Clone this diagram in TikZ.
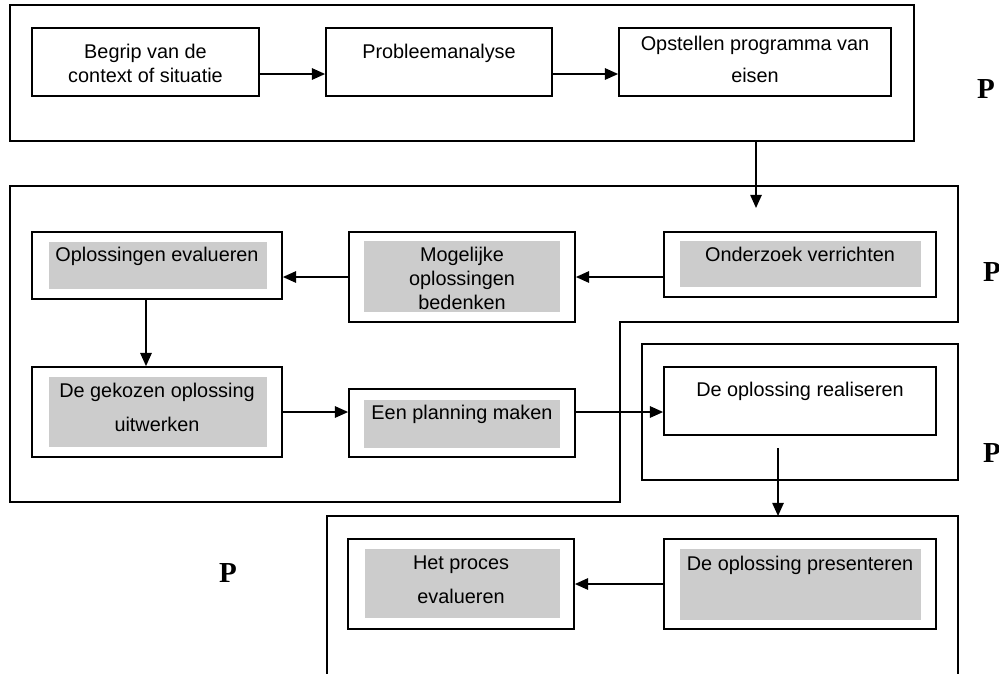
\documentclass[tikz,border=0pt]{standalone}
\usepackage{fontspec}
\setmainfont{Liberation Sans}
\newfontfamily\serifP{Liberation Serif}
\usetikzlibrary{arrows.meta,positioning,fit,backgrounds}
\definecolor{boxgray}{RGB}{204,204,204}

\begin{document}
\begin{tikzpicture}[x=0.02cm, y=-0.02cm, line width=1pt,
	every node/.style={font=\fontsize{11.3}{13.6}\selectfont},
	stepbox/.style={draw, inner sep=0pt},
	greybox/.style={fill=boxgray, inner sep=0pt},
	steptext/.style={anchor=north, align=center, inner sep=0pt},
	tallskip/.style={font=\fontsize{11.3}{19.3}\selectfont},
	plabel/.style={inner sep=0pt, font=\serifP\bfseries\fontsize{16.5}{18}\selectfont},
	arr/.style={line width=0.9pt, -{Triangle[length=7.5pt,width=6.5pt]}}]
	\useasboundingbox (0,0) rectangle (999,673);
	% fase 1
	\node[stepbox, fit={(10,5) (914,141)}] (fr1) {};
	\node[stepbox, fit={(32,28) (259,96)}] (bgr) {};
	\node[steptext] (bgr-t) at (145.5,43) {Begrip van de\\context of situatie};
	\node[stepbox, fit={(326,28) (552,96)}] (prb) {};
	\node[steptext] (prb-t) at (439,43) {Probleemanalyse};
	\node[stepbox, fit={(619,28) (891,96)}] (ope) {};
	\node[steptext, font=\fontsize{11.3}{18.1}\selectfont] (ope-t) at (755,35) {Opstellen programma van\\eisen};
	\coordinate (row1) at (0,74);
	\draw[arr] (bgr.east |- row1) -- (prb.west |- row1);
	\draw[arr] (prb.east |- row1) -- (ope.west |- row1);
	\node[plabel] (p1) at (986,89) {P};
	% fase 2
	\draw (10,186) -- (958,186) -- (958,322) -- (620,322) -- (620,502) -- (10,502) -- cycle;
	\coordinate (d1e) at (756,208);
	\draw[arr] (fr1.south -| d1e) -- (d1e);
	\node[stepbox, fit={(664,232) (936,297)}] (onz) {};
	\node[greybox, fit={(680,241) (921,287)}] (onz-g) {};
	\node[steptext] (onz-t) at (800,246) {Onderzoek verrichten};
	\node[stepbox, fit={(349,232) (575,322)}] (mog) {};
	\node[greybox, fit={(364,241) (560,312)}] (mog-g) {};
	\node[steptext] (mog-t) at (462,246) {Mogelijke\\oplossingen\\bedenken};
	\node[stepbox, fit={(32,232) (282,299)}] (opl) {};
	\node[greybox, fit={(49,242) (267,289)}] (opl-g) {};
	\node[steptext] (opl-t) at (157,246) {Oplossingen evalueren};
	\node[stepbox, fit={(32,367) (282,457)}] (gek) {};
	\node[greybox, fit={(49,377) (267,447)}] (gek-g) {};
	\node[steptext, tallskip] (gek-t) at (157,382) {De gekozen oplossing\\uitwerken};
	\node[stepbox, fit={(349,389) (575,457)}] (pln) {};
	\node[greybox, fit={(364,400) (560,448)}] (pln-g) {};
	\node[steptext] (pln-t) at (462,404) {Een planning maken};
	\coordinate (col1) at (146,0);
	\draw[arr] (onz.west |- mog) -- (mog);
	\draw[arr] (mog.west) -- (opl.east |- mog.west);
	\draw[arr] (opl.south -| col1) -- (gek.north -| col1);
	\draw[arr] (gek.east) -- (pln.west |- gek.east);
	\node[plabel] (p2) at (992,272) {P};
	% fase 3
	\node[stepbox, fit={(642,344) (958,480)}] (fr3) {};
	\node[stepbox, fit={(664,367) (936,435)}] (rea) {};
	\node[steptext] (rea-t) at (800,381) {De oplossing realiseren};
	\draw[arr] (pln.east |- gek.east) -- (rea.west |- gek.east);
	\node[plabel] (p3) at (992,453) {P};
	% fase 4
	\draw (327,680) -- (327,516) -- (958,516) -- (958,680);
	\coordinate (d2s) at (778,448);
	\coordinate (d2e) at (778,516);
	\draw[arr] (d2s) -- (d2e);
	\node[stepbox, fit={(664,539) (936,629)}] (pre) {};
	\node[greybox, fit={(680,549) (921,620)}] (pre-g) {};
	\node[steptext] (pre-t) at (800,555) {De oplossing presenteren};
	\node[stepbox, fit={(348,539) (574,629)}] (hpr) {};
	\node[greybox, fit={(365,549) (560,618)}] (hpr-g) {};
	\node[steptext, tallskip] (hpr-t) at (461,555) {Het proces\\evalueren};
	\draw[arr] (pre) -- (hpr);
	\node[plabel] (p4) at (228,573) {P};
\end{tikzpicture}
\end{document}
